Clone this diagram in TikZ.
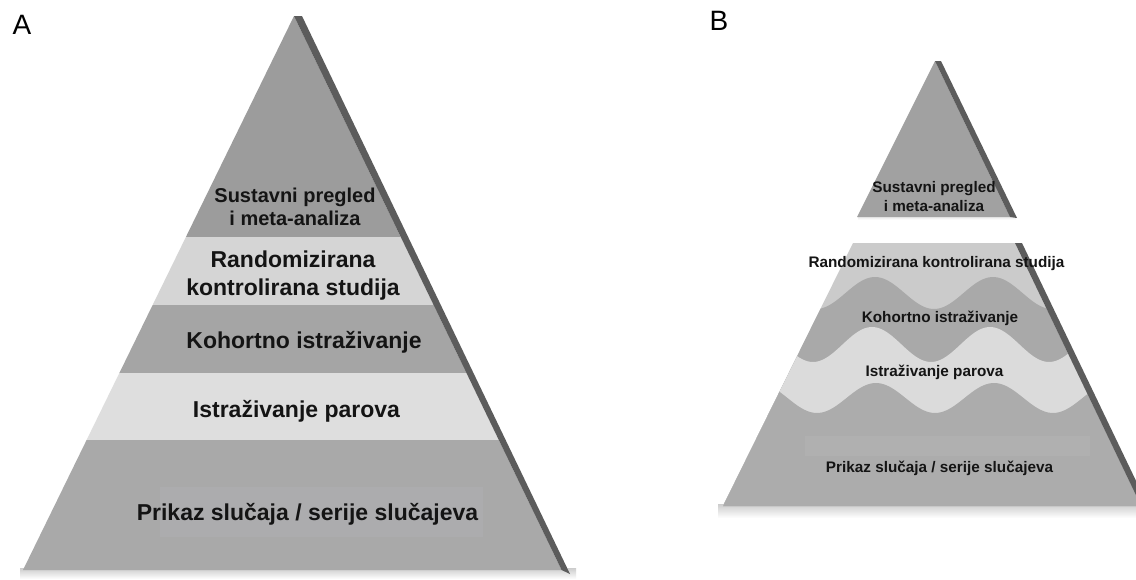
\documentclass[tikz,border=0pt]{standalone}
\usepackage{fontspec}
\setmainfont{Liberation Sans}
\definecolor{aTop}{HTML}{9C9C9C}
\definecolor{aRct}{HTML}{D5D5D5}
\definecolor{aKoh}{HTML}{A5A5A5}
\definecolor{aIst}{HTML}{DEDEDE}
\definecolor{aBase}{HTML}{A9A9A9}
\definecolor{aRect}{HTML}{ACACAE}
\definecolor{bTop}{HTML}{A1A1A1}
\definecolor{bRct}{HTML}{CBCBCB}
\definecolor{bKoh}{HTML}{A9A9A9}
\definecolor{bIst}{HTML}{DBDBDB}
\definecolor{bBase}{HTML}{ACACAC}
\definecolor{bRect}{HTML}{B0B0B0}
\definecolor{strip}{HTML}{5C5C5C}
\definecolor{txt}{HTML}{141414}
\tikzset{
  edgestrip/.style={fill=strip},
  baseshadow/.style={top color=black!20, bottom color=white},
  bigA/.style={font=\fontsize{23}{28}\selectfont\bfseries, inner sep=0pt, align=center, text=txt},
  midA/.style={font=\fontsize{20}{23}\selectfont\bfseries, inner sep=0pt, align=center, text=txt},
  smallB/.style={font=\fontsize{15.3}{18.7}\selectfont\bfseries, inner sep=0pt, align=center, text=txt},
  panel/.style={font=\fontsize{28}{30}\selectfont, inner sep=0pt, text=black},
}
\begin{document}
\begin{tikzpicture}[x=1pt,y=-1pt]
\clip (0,0) rectangle (1136,579);
\fill[white] (0,0) rectangle (1136,579);

% ---------------- Pyramid A ----------------
\shade[baseshadow] (20,568) rectangle (576,579);
\begin{scope}
  \clip (294,16) -- (561.6,570) -- (23,570) -- cycle;
  \fill[aTop]  (0,0)   rectangle (600,237);
  \fill[aRct]  (0,237) rectangle (600,305);
  \fill[aKoh]  (0,305) rectangle (600,373);
  \fill[aIst]  (0,373) rectangle (600,440);
  \fill[aBase] (0,440) rectangle (600,580);
  \fill[aRect] (160,487) rectangle (483,537);
\end{scope}
\fill[edgestrip] (294,16) -- (302,16) -- (570,574) -- (561.6,570) -- cycle;

\node[panel] (labA) at (22,25) {A};
\node[midA] (a1) at (295,206.4) {Sustavni pregled\\i meta-analiza};
\node[bigA] (a2) at (293,275.3) {Randomizirana\\kontrolirana studija};
\node[bigA, anchor=base] (a3) at (304,348.2) {Kohortno istraživanje};
\node[bigA, anchor=base] (a4) at (296.5,417.2) {Istraživanje parova};
\node[bigA, anchor=base] (a5) at (307.5,520.5) {Prikaz slučaja / serije slučajeva};

% ---------------- Pyramid B ----------------
\shade[top color=black!10, bottom color=white] (858,216) rectangle (1016,220);
\fill[bTop] (935,61) -- (1010,217) -- (857,217) -- cycle;
\fill[edgestrip] (935,61) -- (941,61) -- (1017,218) -- (1010,217) -- cycle;

\shade[baseshadow] (718,504) rectangle (1136,518);
\begin{scope}
  \clip (853,243) -- (1015,243) -- (1141.2,506) -- (723,506) -- cycle;
  \fill[bRct] (700,230) rectangle (1150,520);
  \fill[bKoh] plot[domain=700:1150, samples=160] (\x,{293-16*cos(3.0508*(\x-875))}) -- (1150,520) -- (700,520) -- cycle;
  \fill[bIst] plot[domain=700:1150, samples=160] (\x,{344.5-17.5*cos(3.0508*(\x-872))}) -- (1150,520) -- (700,520) -- cycle;
  \fill[bBase] plot[domain=700:1150, samples=160] (\x,{398-15*cos(3.0508*(\x-876))}) -- (1150,520) -- (700,520) -- cycle;
  \fill[bRect] (805,436) rectangle (1090,456);
\end{scope}
\fill[edgestrip] (1015,243) -- (1022,243) -- (1150,510) -- (1141.2,506) -- cycle;

\node[panel] (labB) at (719,21) {B};
\node[smallB] (b1) at (934,196.3) {Sustavni pregled\\i meta-analiza};
\node[smallB, anchor=base] (b2) at (936.5,267.5) {Randomizirana kontrolirana studija};
\node[smallB, anchor=base] (b3) at (940,322.5) {Kohortno istraživanje};
\node[smallB, anchor=base] (b4) at (934.5,376) {Istraživanje parova};
\node[smallB, anchor=base] (b5) at (939.5,472.5) {Prikaz slučaja / serije slučajeva};
\end{tikzpicture}
\end{document}
